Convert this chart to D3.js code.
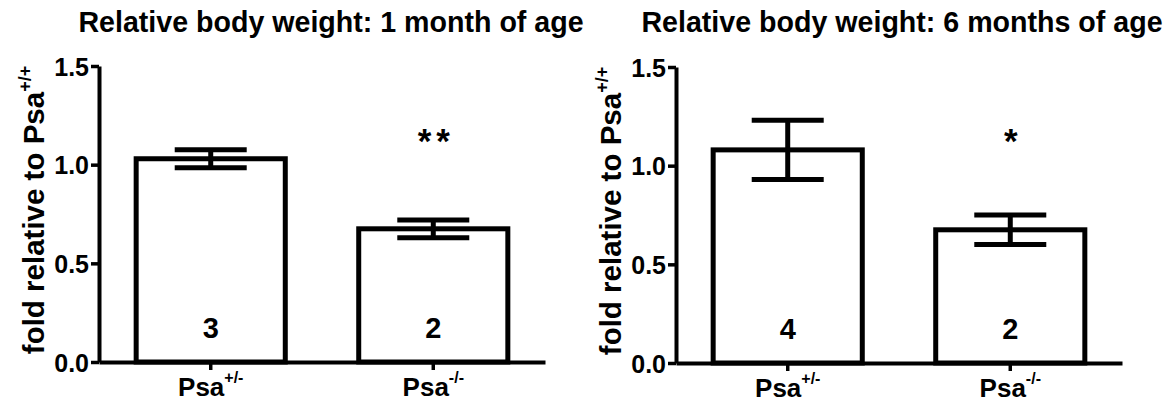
<!DOCTYPE html>
<html>
<head>
<meta charset="utf-8">
<script src="https://cdn.jsdelivr.net/npm/d3@7"></script>
<style>
  html, body { margin: 0; padding: 0; background: #fff; }
  svg { display: block; }
  text { font-family: "Liberation Sans", Arial, sans-serif; font-weight: bold; fill: #000; }
</style>
</head>
<body>
<svg id="chart" width="1172" height="407"></svg>
<script>
// Genotype groups and their display pieces
const genotypes = ["Psa+/-", "Psa-/-"];
const genotypeBase = ["Psa", "Psa"];
const genotypeSup = ["+/-", "-/-"];

// Relative body weight at 1 month (mean, SEM, n, significance)
const meanOneMonth = [1.03, 0.675];
const semOneMonth = [0.045, 0.045];
const nOneMonth = [3, 2];
const sigOneMonth = ["", "**"];

// Relative body weight at 6 months
const meanSixMonths = [1.08, 0.675];
const semSixMonths = [0.15, 0.075];
const nSixMonths = [4, 2];
const sigSixMonths = ["", "*"];

// Axis ticks
const yTickValues = [0, 0.5, 1.0, 1.5];
const yTickLabels = ["0.0", "0.5", "1.0", "1.5"];

const panels = [
  { title: "Relative body weight: 1 month of age", mean: meanOneMonth, sem: semOneMonth, n: nOneMonth, sig: sigOneMonth, left: 99, y0: 362, titleX: 331 },
  { title: "Relative body weight: 6 months of age", mean: meanSixMonths, sem: semSixMonths, n: nSixMonths, sig: sigSixMonths, left: 676, y0: 363, titleX: 902 }
];

const svg = d3.select("#chart");
const plotWidth = 446;
const plotHeight = 296;
const lineW = 5;

panels.forEach(p => {
  const g = svg.append("g");
  const x = d3.scaleBand().domain(genotypes)
    .range([p.left, p.left + plotWidth])
    .paddingInner(0.33).paddingOuter(0.167);
  const y = d3.scaleLinear().domain([0, 1.5]).range([p.y0, p.y0 - plotHeight]);

  // Title
  g.append("text")
    .attr("x", p.titleX)
    .attr("y", 32)
    .attr("text-anchor", "middle")
    .style("font-size", "28.6px")
    .text(p.title);

  // Y axis
  const yAxis = g.append("g")
    .attr("transform", `translate(${p.left},0)`)
    .call(d3.axisLeft(y).tickValues(yTickValues)
      .tickFormat((d, i) => yTickLabels[i]).tickSize(8).tickSizeOuter(0).tickPadding(2));
  yAxis.select(".domain").attr("stroke", "#000").attr("stroke-width", 4);
  yAxis.selectAll(".tick line").attr("stroke", "#000").attr("stroke-width", 3.5);
  yAxis.selectAll(".tick text").style("font-size", "25px").attr("dy", "0.36em").attr("font-family", null);

  // Y axis title
  const yt = g.append("text")
    .attr("transform", `translate(${p.left - 55},${p.y0 - plotHeight / 2 - 4}) rotate(-90)`)
    .attr("text-anchor", "middle")
    .style("font-size", "29.5px");
  yt.append("tspan").text("fold relative to Psa");
  yt.append("tspan").attr("dy", -13).style("font-size", "18px").text("+/+");

  // Bars
  g.selectAll("rect.bar").data(genotypes).join("rect")
    .attr("class", "bar")
    .attr("x", d => x(d))
    .attr("width", x.bandwidth())
    .attr("y", (d, i) => y(p.mean[i]))
    .attr("height", (d, i) => y(0) - y(p.mean[i]))
    .attr("fill", "#fff")
    .attr("stroke", "#000")
    .attr("stroke-width", lineW);

  // Error bars (mean ± SEM)
  const capHalf = 36;
  genotypes.forEach((d, i) => {
    const cx = x(d) + x.bandwidth() / 2;
    const hi = y(p.mean[i] + p.sem[i]);
    const lo = y(p.mean[i] - p.sem[i]);
    g.append("line").attr("x1", cx).attr("x2", cx).attr("y1", hi).attr("y2", lo)
      .attr("stroke", "#000").attr("stroke-width", lineW);
    [hi, lo].forEach(v => g.append("line")
      .attr("x1", cx - capHalf).attr("x2", cx + capHalf).attr("y1", v).attr("y2", v)
      .attr("stroke", "#000").attr("stroke-width", lineW));
  });

  // Sample sizes inside bars
  g.selectAll("text.n").data(genotypes).join("text")
    .attr("class", "n")
    .attr("x", d => x(d) + x.bandwidth() / 2)
    .attr("y", p.y0 - 24)
    .attr("text-anchor", "middle")
    .style("font-size", "29px")
    .text((d, i) => p.n[i]);

  // Significance markers
  g.selectAll("text.sig").data(genotypes).join("text")
    .attr("class", "sig")
    .attr("x", d => x(d) + x.bandwidth() / 2 + 3)
    .attr("y", 153)
    .attr("text-anchor", "middle")
    .style("font-size", "35px")
    .style("letter-spacing", "5px")
    .text((d, i) => p.sig[i]);

  // X axis
  const xAxis = g.append("g")
    .attr("transform", `translate(0,${p.y0})`)
    .call(d3.axisBottom(x).tickSize(8).tickSizeOuter(0).tickFormat(() => ""));
  xAxis.select(".domain").attr("stroke", "#000").attr("stroke-width", 4);
  xAxis.selectAll(".tick line").attr("stroke", "#000").attr("stroke-width", 3.5);
  xAxis.selectAll(".tick text").remove();
  xAxis.selectAll(".tick").each(function (d, i) {
    const t = d3.select(this).append("text")
      .attr("y", 34)
      .attr("text-anchor", "middle")
      .style("font-size", "26px");
    t.append("tspan").text(genotypeBase[i]);
    t.append("tspan").attr("dy", -13).style("font-size", "16px").text(genotypeSup[i]);
  });
});
</script>
</body>
</html>
